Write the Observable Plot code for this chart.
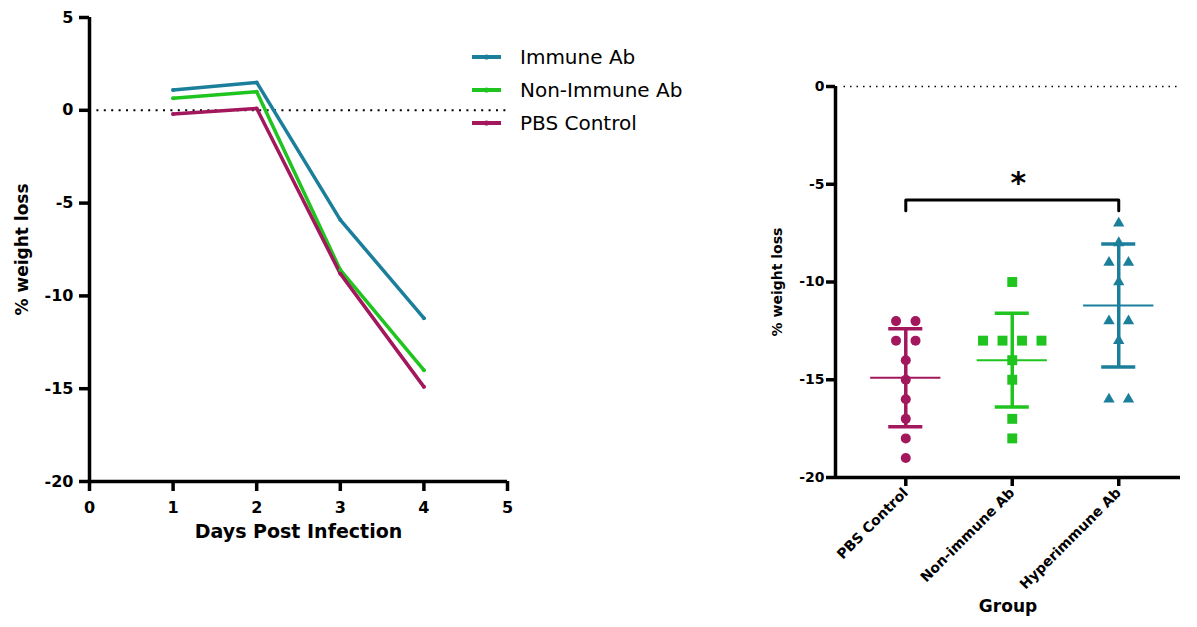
<!DOCTYPE html>
<html><head><meta charset="utf-8">
<script src="https://cdn.jsdelivr.net/npm/d3@7"></script>
<script src="https://cdn.jsdelivr.net/npm/@observablehq/plot@0.6"></script>
<style>
body{margin:0;background:#fff;font-family:"DejaVu Sans",sans-serif;}
#wrap{position:relative;width:1197px;height:627px;overflow:hidden;background:#fff;}
#left{position:absolute;left:0;top:0;}
#right{position:absolute;left:740px;top:0;}
#legend{position:absolute;left:471px;top:40px;}
.row{display:flex;align-items:center;height:33px;font-size:20px;color:#000;}
.row svg{margin-right:18px;}
</style></head><body>
<div id="wrap"><div id="left"></div><div id="right"></div><div id="legend"></div></div>
<script>
// ---- Left chart data (line chart) ----
const days = [1, 2, 3, 4];
const seriesNames = ["Immune Ab", "Non-Immune Ab", "PBS Control"];
const immuneAb = [1.1, 1.5, -5.9, -11.2];
const nonImmuneAb = [0.65, 1.0, -8.6, -14.0];
const pbsControl = [-0.2, 0.1, -8.8, -14.9];
const xTicksLeft = [0, 1, 2, 3, 4, 5];
const yTicksLeft = [5, 0, -5, -10, -15, -20];

// ---- Right chart data (scatter with mean ± SD) ----
const groups = ["PBS Control", "Non-immune Ab", "Hyperimmune Ab"];
const pbsPoints = [-12, -12, -13, -13, -14, -15, -16, -17, -18, -19];
const nonImmunePoints = [-10, -13, -13, -13, -13, -14, -15, -17, -18];
const hyperimmunePoints = [-7, -8, -9, -9, -10, -12, -12, -13, -16, -16];
const groupMeans = [-14.9, -14.0, -11.2];
const groupSD = [2.51, 2.40, 3.15];
const yTicksRight = [0, -5, -10, -15, -20];
const sigPair = [0, 2];
const sigLabel = "*";
const sigLevel = -5.8;
const sigDrop = -6.35;

// ---- styles ----
const lineColors = ["#1b7f9b", "#1fc41f", "#a3175d"];
const groupColors = ["#a3175d", "#1fc41f", "#1b7f9b"];
const groupSymbols = ["circle", "square", "triangle"];
const groupR = [5, 5.6, 4.2];
const fmt = d => String(d);

// ---------- Left chart ----------
const seriesValues = [immuneAb, nonImmuneAb, pbsControl];
const lineData = seriesNames.flatMap((s, i) => days.map((d, j) => ({series: s, day: d, value: seriesValues[i][j]})));

const left = Plot.plot({
  width: 520, height: 560,
  marginLeft: 89, marginRight: 13, marginTop: 17, marginBottom: 79,
  style: {fontFamily: "DejaVu Sans, sans-serif", fontWeight: "bold", color: "#000", background: "#fff"},
  x: {domain: [0, 5]},
  y: {domain: [-20, 5]},
  color: {domain: seriesNames, range: lineColors},
  marks: [
    Plot.ruleY([0], {strokeDasharray: "2 5.4", strokeWidth: 2, stroke: "#000"}),
    Plot.line(lineData, {x: "day", y: "value", z: "series", stroke: "series", strokeWidth: 3.5}),
    Plot.dot(lineData, {x: "day", y: "value", fill: "series", r: 2}),
    Plot.ruleX([0], {y1: -20, y2: 5, strokeWidth: 3.5, stroke: "#000"}),
    Plot.ruleY([-20], {x1: 0, x2: 5, strokeWidth: 3.5, stroke: "#000"}),
    Plot.axisX({ticks: xTicksLeft, tickFormat: fmt, tickSize: 10, tickPadding: 10, fontSize: 16, strokeWidth: 3.5, label: null}),
    Plot.axisY({ticks: yTicksLeft, tickFormat: fmt, tickSize: 10, tickPadding: 6, fontSize: 16, strokeWidth: 3.5, label: null}),
    Plot.text(["Days Post Infection"], {frameAnchor: "bottom", dy: 56, fontSize: 19, fontWeight: "bold"}),
    Plot.text(["% weight loss"], {frameAnchor: "left", textAnchor: "middle", dx: -67, rotate: -90, fontSize: 17, fontWeight: "bold"})
  ]
});
document.getElementById("left").append(left);

// legend
const legend = document.getElementById("legend");
seriesNames.forEach((s, i) => {
  const row = document.createElement("div");
  row.className = "row";
  row.innerHTML = `<svg width="31" height="10"><line x1="1" y1="5" x2="30" y2="5" stroke="${lineColors[i]}" stroke-width="4"/><circle cx="15.5" cy="5" r="2.6" fill="${lineColors[i]}"/></svg><span>${s}</span>`;
  legend.append(row);
});

// ---------- Right chart ----------
const jitterStep = 0.183;
function jitter(values, gi) {
  const counts = d3.rollup(values, v => v.length, d => d);
  const seen = new Map();
  return values.map(v => {
    const n = counts.get(v), k = seen.get(v) || 0;
    seen.set(v, k + 1);
    return {gi, x: gi + (k - (n - 1) / 2) * jitterStep, y: v};
  });
}
const pointSets = [pbsPoints, nonImmunePoints, hyperimmunePoints].map((p, i) => jitter(p, i));
const stats = groups.map((g, i) => ({gi: i, mean: groupMeans[i], lo: groupMeans[i] - groupSD[i], hi: groupMeans[i] + groupSD[i]}));
const caps = stats.flatMap(s => [{gi: s.gi, y: s.lo}, {gi: s.gi, y: s.hi}]);
const bracket = [
  {x: sigPair[0], y: sigDrop}, {x: sigPair[0], y: sigLevel},
  {x: sigPair[1], y: sigLevel}, {x: sigPair[1], y: sigDrop}
];
const xMin = -0.66, xMax = 2.58;

const right = Plot.plot({
  width: 457, height: 627,
  marginLeft: 95, marginRight: 17, marginTop: 86, marginBottom: 150,
  style: {fontFamily: "DejaVu Sans, sans-serif", fontWeight: "bold", color: "#000", background: "#fff"},
  x: {type: "linear", domain: [xMin, xMax]},
  y: {domain: [-20, 0]},
  color: {type: "identity"},
  marks: [
    Plot.ruleY([0], {x1: -0.58, x2: xMax, strokeDasharray: "1.5 5", strokeWidth: 1.6, stroke: "#000"}),
    Plot.line(bracket, {x: "x", y: "y", stroke: "#000", strokeWidth: 3}),
    Plot.text([sigLabel], {x: (sigPair[0] + sigPair[1]) / 2, dx: 6, y: sigLevel, dy: -16, fontSize: 30, fontWeight: "bold"}),
    Plot.ruleX(stats, {x: "gi", y1: "lo", y2: "hi", stroke: d => groupColors[d.gi], strokeWidth: 3.5}),
    Plot.ruleY(caps, {y: "y", x1: d => d.gi - 0.16, x2: d => d.gi + 0.16, stroke: d => groupColors[d.gi], strokeWidth: 3.5}),
    Plot.ruleY(stats, {y: "mean", x1: d => d.gi - 0.33, x2: d => d.gi + 0.33, stroke: d => groupColors[d.gi], strokeWidth: 2}),
    ...pointSets.map((pts, i) => Plot.dot(pts, {x: "x", y: "y", symbol: () => groupSymbols[i], r: groupR[i], fill: groupColors[i], stroke: "none"})),
    Plot.ruleX([xMin], {y1: -20, y2: 0, strokeWidth: 3.5, stroke: "#000"}),
    Plot.ruleY([-20], {x1: xMin, x2: xMax, strokeWidth: 3.5, stroke: "#000"}),
    Plot.axisY({ticks: yTicksRight, tickFormat: fmt, tickSize: 9, tickPadding: 2, fontSize: 14, strokeWidth: 3.5, label: null}),
    Plot.axisX({ticks: [0, 1, 2], tickFormat: i => groups[i], tickRotate: -45, tickSize: 9, tickPadding: 4, fontSize: 14, strokeWidth: 3.5, label: null}),
    Plot.text(["Group"], {frameAnchor: "bottom", dy: 134, fontSize: 17, fontWeight: "bold"}),
    Plot.text(["% weight loss"], {frameAnchor: "left", textAnchor: "middle", dx: -58, rotate: -90, fontSize: 14, fontWeight: "bold"})
  ]
});
document.getElementById("right").append(right);
</script>
</body></html>
